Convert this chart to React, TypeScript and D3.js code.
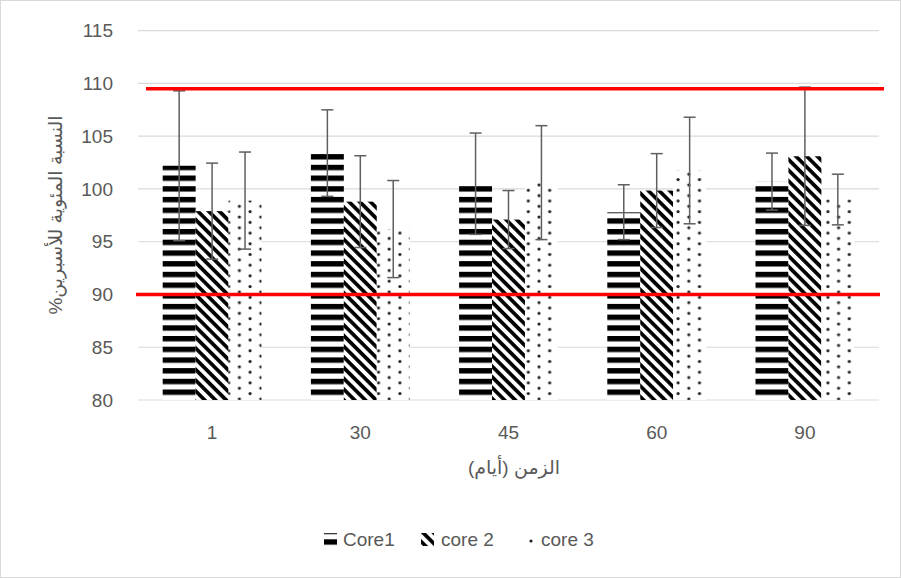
import React from 'react';
import * as d3 from 'd3';

// Chart data
const categories = ['1', '30', '45', '60', '90'];
const seriesNames = ['Core1', 'core 2', 'core 3'];
const core1 = [102.2, 103.4, 100.5, 97.8, 100.7];
const core2 = [97.9, 98.8, 97.1, 99.85, 103.1];
const core3 = [98.9, 96.2, 100.6, 101.75, 99.0];
const core1Err = [7.1, 4.1, 4.8, 2.6, 2.7];
const core2Err = [4.55, 4.35, 2.75, 3.5, 6.55];
const core3Err = [4.6, 4.6, 5.4, 5.05, 2.4];
const yTicks = [80, 85, 90, 95, 100, 105, 110, 115];
const limits = [109.5, 90];

const W = 901;
const H = 578;
const font = "'Liberation Sans', 'DejaVu Sans', sans-serif";
const textColor = '#595959';

const App = () => {
  const values = [core1, core2, core3];
  const errors = [core1Err, core2Err, core3Err];
  const fills = ['url(#hstripe)', 'url(#dstripe)', 'url(#dots)'];

  // Scales
  const x = d3.scaleBand().domain(categories).range([138, 879])
    .paddingInner(1.5 / 4.5).paddingOuter(0.75 / 4.5);
  const xs = d3.scaleBand().domain(seriesNames).range([0, x.bandwidth()]);
  const y = d3.scaleLinear().domain([80, 115]).range([400, 30.7]);

  const [x0, x1] = x.range();

  return (
    <svg width={W} height={H} style={{ position: 'absolute', left: 0, top: 0 }} fontFamily={font}>
      <defs>
        <pattern id="hstripe" patternUnits="userSpaceOnUse" width={10} height={10.7} y={389.5}>
          <rect width={10} height={10.7} fill="#fff" />
          <rect width={10} height={5.4} fill="#000" />
        </pattern>
        <pattern id="dstripe" patternUnits="userSpaceOnUse" width={7.57} height={7.57} patternTransform="rotate(45)">
          <rect width={7.57} height={7.57} fill="#fff" />
          <rect width={7.57} height={3.7} fill="#000" />
        </pattern>
        <pattern id="dots" patternUnits="userSpaceOnUse" width={21.4} height={10.7} x={2} y={1}>
          <rect width={21.4} height={10.7} fill="#fff" />
          <circle cx={2} cy={2} r={1.6} fill="#222" />
          <circle cx={12.7} cy={7.35} r={1.6} fill="#222" />
        </pattern>
      </defs>

      <rect x={0.5} y={0.5} width={W - 1} height={H - 1} fill="#fff" stroke="#d9d9d9" />

      {/* gridlines */}
      {yTicks.map(t => (
        <line key={t} x1={x0} x2={x1} y1={y(t)} y2={y(t)} stroke="#d9d9d9" strokeWidth={1.2} />
      ))}

      {/* y tick labels */}
      {yTicks.map(t => (
        <text key={t} x={113} y={y(t)} dy="0.35em" textAnchor="end" fontSize={19} fill={textColor}>{t}</text>
      ))}

      {/* bars */}
      {values.map((vals, s) => (
        <g key={s}>
          {vals.map((v, i) => (
            <rect key={i}
              x={(x(categories[i]) as number) + (xs(seriesNames[s]) as number)}
              y={y(v)}
              width={xs.bandwidth()}
              height={y(80) - y(v)}
              fill={fills[s]} />
          ))}
        </g>
      ))}

      {/* error bars */}
      {values.map((vals, s) => (
        <g key={s} stroke="#5f5f5f" strokeWidth={1.5}>
          {vals.map((v, i) => {
            const cx = (x(categories[i]) as number) + (xs(seriesNames[s]) as number) + xs.bandwidth() / 2;
            const e = errors[s][i];
            return (
              <g key={i}>
                <line x1={cx} x2={cx} y1={y(v + e)} y2={y(v - e)} />
                <line x1={cx - 6} x2={cx + 6} y1={y(v + e)} y2={y(v + e)} />
                <line x1={cx - 6} x2={cx + 6} y1={y(v - e)} y2={y(v - e)} />
              </g>
            );
          })}
        </g>
      ))}

      {/* red limit lines */}
      <line x1={x0 + 8} x2={x1 + 5} y1={y(limits[0])} y2={y(limits[0])} stroke="#ff0000" strokeWidth={3.5} />
      <line x1={x0 - 2} x2={x1 + 1} y1={y(limits[1])} y2={y(limits[1])} stroke="#ff0000" strokeWidth={3.5} />

      {/* x tick labels */}
      {categories.map(c => (
        <text key={c} x={(x(c) as number) + x.bandwidth() / 2} y={432} dy="0.35em" textAnchor="middle" fontSize={19} fill={textColor}>{c}</text>
      ))}

      {/* axis titles */}
      <text x={514} y={467} dy="0.35em" textAnchor="middle" fontSize={19} fill={textColor} style={{ direction: 'rtl' }}>الزمن (أيام)</text>
      <text transform="translate(55,215) rotate(-90)" dy="0.35em" textAnchor="middle" fontSize={19} fill={textColor} style={{ direction: 'rtl' }}>النسبة المئوية للأسبرين%</text>

      {/* legend */}
      <g fontSize={19} fill={textColor}>
        <rect x={324} y={533} width={13} height={13} fill="url(#hstripe)" />
        <text x={343} y={539} dy="0.35em">Core1</text>
        <rect x={421} y={533} width={13} height={13} fill="url(#dstripe)" />
        <text x={441} y={539} dy="0.35em">core 2</text>
        <circle cx={531} cy={541} r={1.6} fill="#222" />
        <text x={541} y={539} dy="0.35em">core 3</text>
      </g>
    </svg>
  );
};

export default App;
